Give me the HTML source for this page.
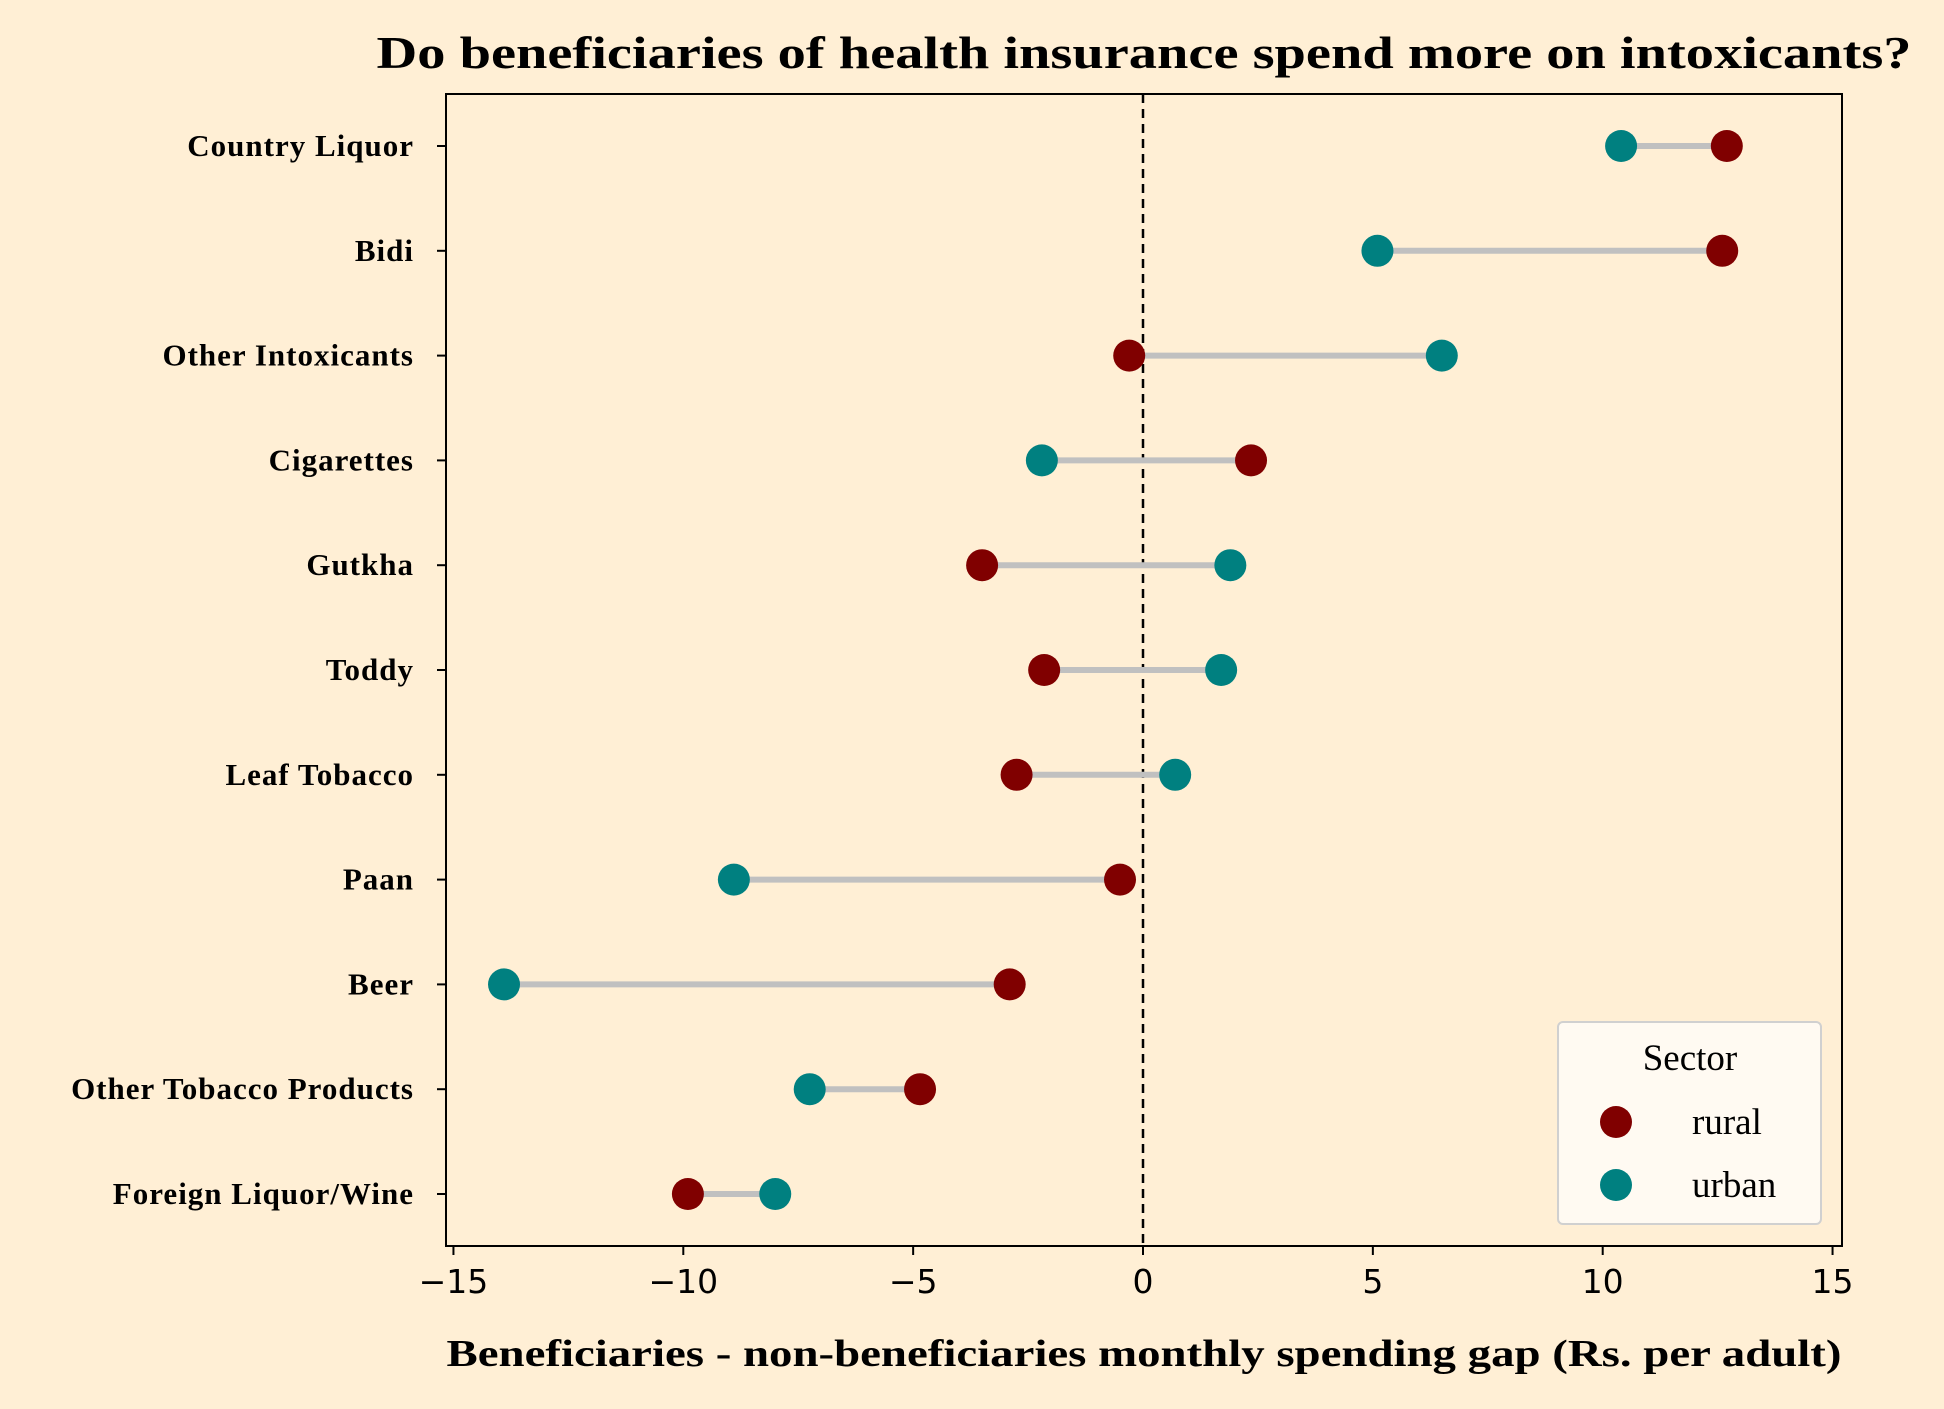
<!DOCTYPE html>
<html><head><meta charset="utf-8"><style>
html,body{margin:0;padding:0;background:#ffefd5;}
svg{display:block;}
</style></head><body>
<svg id="chart" width="1944" height="1409" viewBox="0 0 1944 1409" xmlns="http://www.w3.org/2000/svg">
<rect x="0" y="0" width="1944" height="1409" fill="#ffefd5"/>
<text x="1144" y="68" text-anchor="middle" font-family="Liberation Serif, serif" font-weight="bold" font-size="46" textLength="1535" lengthAdjust="spacingAndGlyphs">Do beneficiaries of health insurance spend more on intoxicants?</text>
<g id="plot"></g>
<text x="1144" y="1366" text-anchor="middle" font-family="Liberation Serif, serif" font-weight="bold" font-size="38" textLength="1395" lengthAdjust="spacingAndGlyphs">Beneficiaries - non-beneficiaries monthly spending gap (Rs. per adult)</text>
</svg>
<script>
const categories = ["Country Liquor","Bidi","Other Intoxicants","Cigarettes","Gutkha","Toddy","Leaf Tobacco","Paan","Beer","Other Tobacco Products","Foreign Liquor/Wine"];
const ruralValues = [12.7,12.6,-0.3,2.35,-3.5,-2.15,-2.75,-0.5,-2.9,-4.85,-9.9];
const urbanValues = [10.4,5.1,6.5,-2.2,1.9,1.7,0.7,-8.9,-13.9,-7.25,-8.0];
const xTicks = [-15,-10,-5,0,5,10,15];
const xTickLabels = ["\u221215","\u221210","\u22125","0","5","10","15"];

const NS="http://www.w3.org/2000/svg";
const L=446,R=1842,T=94,B=1246;
const x=v=>1143+v*45.97;
const y=i=>146+i*104.8;
const g=document.getElementById('plot');
function mk(tag,attrs){const e=document.createElementNS(NS,tag);for(const k in attrs)e.setAttribute(k,attrs[k]);g.appendChild(e);return e;}

let e=mk('line',{x1:x(0),x2:x(0),y1:T,y2:B,stroke:'#000','stroke-width':2.5,'stroke-dasharray':'9,6'});



categories.forEach((c,i)=>{
  let ln=mk('line',{x1:x(ruralValues[i]),x2:x(urbanValues[i]),y1:y(i),y2:y(i),stroke:'#c0c0c0','stroke-width':6});
  
  
  let cr=mk('circle',{cx:x(ruralValues[i]),cy:y(i),r:16,fill:'#800000'});
  
  
  let cu=mk('circle',{cx:x(urbanValues[i]),cy:y(i),r:16,fill:'#008080'});
  
  
  let tk=mk('line',{x1:L-9,x2:L,y1:y(i),y2:y(i),stroke:'#000','stroke-width':2});
  
  
  let t=mk('text',{x:L-32,y:y(i)+10,'text-anchor':'end','font-family':'Liberation Serif, serif','font-weight':'bold','font-size':31,'letter-spacing':1});
  t.textContent=c;
  
  
});

xTicks.forEach((v,i)=>{
  let tk=mk('line',{x1:x(v),x2:x(v),y1:B,y2:B+9,stroke:'#000','stroke-width':2});
  
  
  let t=mk('text',{x:x(v),y:B+47,'text-anchor':'middle','font-family':'DejaVu Sans, sans-serif','font-size':33});
  t.textContent=xTickLabels[i];
  
  
});

let fr=mk('rect',{x:L,y:T,width:R-L,height:B-T,fill:'none',stroke:'#000','stroke-width':2});



let lg=mk('rect',{x:1558,y:1022,width:263,height:202,rx:5,fill:'#fffaf2',stroke:'#d0d0d0','stroke-width':2});


let lt=mk('text',{x:1690,y:1070,'text-anchor':'middle','font-family':'Liberation Serif, serif','font-size':37});
lt.textContent='Sector';


[['rural','#800000',1122],['urban','#008080',1185]].forEach(([n,c,yy])=>{
  let d=mk('circle',{cx:1616,cy:yy,r:16,fill:c});
  
  
  let t=mk('text',{x:1692,y:yy+12,'font-family':'Liberation Serif, serif','font-size':37});
  t.textContent=n;
  
  
});
</script>
</body></html>
